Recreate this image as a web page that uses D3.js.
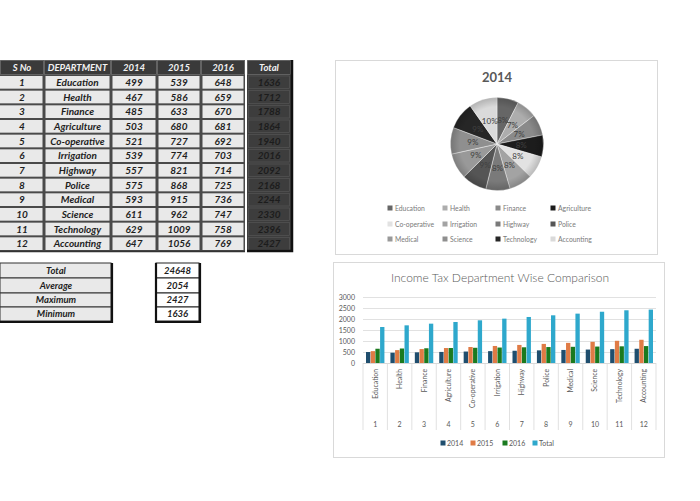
<!DOCTYPE html>
<html>
<head>
<meta charset="utf-8">
<script src="https://cdn.jsdelivr.net/npm/d3@7/dist/d3.min.js"></script>
<style>
  html, body { margin: 0; padding: 0; background: #ffffff; }
  svg { display: block; }
</style>
</head>
<body>
<svg id="chart" width="700" height="501"></svg>
<script>
// ---------- DATA ----------
const serialNumbers = [1, 2, 3, 4, 5, 6, 7, 8, 9, 10, 11, 12];
const departments = ["Education", "Health", "Finance", "Agriculture", "Co-operative", "Irrigation",
  "Highway", "Police", "Medical", "Science", "Technology", "Accounting"];
const values2014 = [499, 467, 485, 503, 521, 539, 557, 575, 593, 611, 629, 647];
const values2015 = [539, 586, 633, 680, 727, 774, 821, 868, 915, 962, 1009, 1056];
const values2016 = [648, 659, 670, 681, 692, 703, 714, 725, 736, 747, 758, 769];
const totals = [1636, 1712, 1788, 1864, 1940, 2016, 2092, 2168, 2244, 2330, 2396, 2427];
const tableHeaders = ["S No", "DEPARTMENT", "2014", "2015", "2016", "Total"];
const summaryLabels = ["Total", "Average", "Maximum", "Minimum"];
const summaryValues = [24648, 2054, 2427, 1636];
const seriesNames = ["2014", "2015", "2016", "Total"];
const yTicks = [0, 500, 1000, 1500, 2000, 2500, 3000];
const pieTitle = "2014";
const barTitle = "Income Tax Department Wise Comparison";

// ---------- STYLES ----------
const pieColors = ["#666666", "#adadad", "#8a8a8a", "#1c1c1c", "#e2e2e2", "#a3a3a3",
  "#7a7a7a", "#555555", "#999999", "#8f8f8f", "#262626", "#dadada"];
const seriesColors = ["#1f4e6e", "#e07b45", "#1b7a1f", "#2ea8cc"];
const tableFont = "Lato, 'Liberation Sans', sans-serif";
const chartFont = "Lato, 'Open Sans', 'Liberation Sans', sans-serif";

const svg = d3.select("#chart");

// ---------- MAIN TABLE ----------
const colEdges = [0, 44, 111, 157, 201, 245];
const totalCol = [247, 291];
const headerTop = 60, headerBottom = 75;
const rowY = d3.scaleLinear().domain([0, 12]).range([75, 251]);

const tbl = svg.append("g").attr("font-family", tableFont)
  .attr("font-style", "italic").attr("font-weight", "bold");

tbl.append("rect").attr("x", 0).attr("y", headerTop).attr("width", 245).attr("height", 251 - headerTop + 1)
  .attr("fill", "#4a4a4a");
const allCols = colEdges.slice(0, 5).map((x, i) => [x, colEdges[i + 1]]).concat([totalCol]);
tbl.append("rect").attr("x", 247).attr("y", headerTop).attr("width", 44).attr("height", 251 - headerTop + 1)
  .attr("fill", "#3d3d3d");
allCols.forEach((c, i) => {
  tbl.append("rect").attr("x", c[0] + 0.5).attr("y", headerTop + 0.5)
    .attr("width", c[1] - c[0] - 1).attr("height", headerBottom - headerTop - 1)
    .attr("fill", "#3a3a3a").attr("stroke", "#7a7a7a").attr("stroke-width", 0.6);
  tbl.append("text").attr("x", (c[0] + c[1]) / 2).attr("y", (headerTop + headerBottom) / 2 + 3.3)
    .attr("text-anchor", "middle").attr("font-size", 9.5).attr("fill", "#f2f2f2")
    .text(tableHeaders[i]);
});
const rowsData = departments.map((d, i) => [serialNumbers[i], d, values2014[i], values2015[i], values2016[i], totals[i]]);
rowsData.forEach((row, r) => {
  const y0 = rowY(r), y1 = rowY(r + 1);
  allCols.forEach((c, i) => {
    const isTotal = i === 5;
    tbl.append("rect").attr("x", c[0] + (i === 0 ? 0 : 1.5)).attr("y", y0 + 1)
      .attr("width", c[1] - c[0] - (i === 0 ? 1.5 : 3)).attr("height", y1 - y0 - 2)
      .attr("fill", isTotal ? "#3d3d3d" : "#e9e9e9")
      .attr("stroke", isTotal ? "#5a5a5a" : "none").attr("stroke-width", 0.6);
    tbl.append("text").attr("x", (c[0] + c[1]) / 2).attr("y", (y0 + y1) / 2 + 3.5)
      .attr("text-anchor", "middle").attr("font-size", 10)
      .attr("fill", isTotal ? "#1c1c1c" : "#1e1e1e")
      .text(row[i]);
  });
});
tbl.append("path").attr("d", `M247,251 L292,251 L292,60`).attr("fill", "none")
  .attr("stroke", "#111").attr("stroke-width", 2.5);
tbl.append("line").attr("x1", 0).attr("x2", 245).attr("y1", 251.5).attr("y2", 251.5)
  .attr("stroke", "#333").attr("stroke-width", 1.5);

// ---------- SUMMARY TABLE ----------
const sumRows = [263, 278, 293, 307, 321];
const sum = svg.append("g").attr("font-family", tableFont)
  .attr("font-style", "italic").attr("font-weight", "bold");
summaryLabels.forEach((lab, i) => {
  sum.append("rect").attr("x", 0).attr("y", sumRows[i]).attr("width", 111).attr("height", sumRows[i + 1] - sumRows[i])
    .attr("fill", "#e9e9e9").attr("stroke", "#333").attr("stroke-width", 1);
  sum.append("text").attr("x", 56).attr("y", (sumRows[i] + sumRows[i + 1]) / 2 + 3.3)
    .attr("text-anchor", "middle").attr("font-size", 9.5).attr("fill", "#1e1e1e").text(lab);
  sum.append("rect").attr("x", 156).attr("y", sumRows[i]).attr("width", 43).attr("height", sumRows[i + 1] - sumRows[i])
    .attr("fill", "#ffffff").attr("stroke", "#222").attr("stroke-width", 1);
  sum.append("text").attr("x", 177.5).attr("y", (sumRows[i] + sumRows[i + 1]) / 2 + 3.3)
    .attr("text-anchor", "middle").attr("font-size", 9.5).attr("fill", "#1e1e1e").text(summaryValues[i]);
});
sum.append("path").attr("d", "M0,322 L112,322 L112,263").attr("fill", "none").attr("stroke", "#111").attr("stroke-width", 2.2);
sum.append("path").attr("d", "M156,263 L156,322 L200,322 L200,263").attr("fill", "none").attr("stroke", "#111").attr("stroke-width", 2.2);

// ---------- PIE PANEL ----------
const pieG = svg.append("g").attr("font-family", chartFont);
pieG.append("rect").attr("x", 335.5).attr("y", 60.5).attr("width", 322).attr("height", 194)
  .attr("fill", "#fff").attr("stroke", "#d9d9d9");
pieG.append("text").attr("x", 497).attr("y", 82).attr("text-anchor", "middle")
  .attr("font-size", 13).attr("font-weight", "bold").attr("fill", "#595959").text(pieTitle);

const pieCx = 497, pieCy = 144, pieR = 46.5;
const pieData = d3.pie().sort(null).value(d => d)(values2014);
const arc = d3.arc().innerRadius(0).outerRadius(pieR);
const labelArc = d3.arc().innerRadius(pieR * 0.52).outerRadius(pieR * 0.52);
const sum2014 = d3.sum(values2014);
const pg = pieG.append("g").attr("transform", `translate(${pieCx},${pieCy})`);
const defs = svg.append("defs");
const shade = defs.append("radialGradient").attr("id", "pieShade").attr("cx", "50%").attr("cy", "50%").attr("r", "50%");
shade.append("stop").attr("offset", "80%").attr("stop-color", "#000").attr("stop-opacity", 0);
shade.append("stop").attr("offset", "100%").attr("stop-color", "#000").attr("stop-opacity", 0.18);
pg.selectAll("path.slice").data(pieData).enter().append("path").attr("class", "slice")
  .attr("d", arc).attr("fill", (d, i) => pieColors[i]).attr("stroke", "#ffffff").attr("stroke-width", 0.4);
pg.append("circle").attr("r", pieR).attr("fill", "url(#pieShade)");
pg.selectAll("text.pct").data(pieData).enter().append("text").attr("class", "pct")
  .attr("transform", d => `translate(${labelArc.centroid(d)})`)
  .attr("text-anchor", "middle").attr("dy", "0.35em")
  .attr("font-size", 8).attr("fill", "#404040")
  .text(d => Math.round(d.data / sum2014 * 100) + "%");

const legColX = [390, 445, 498, 553];
const legRowY = [208, 224, 239];
departments.forEach((dep, i) => {
  const cx = legColX[i % 4], cy = legRowY[Math.floor(i / 4)];
  pieG.append("rect").attr("x", cx - 2.5).attr("y", cy - 2.5).attr("width", 5).attr("height", 5).attr("fill", pieColors[i]);
  pieG.append("text").attr("x", cx + 5).attr("y", cy + 2.5).attr("font-size", 6.8).attr("fill", "#7a7a7a").text(dep);
});

// ---------- BAR PANEL ----------
const barG = svg.append("g").attr("font-family", chartFont);
barG.append("rect").attr("x", 333.5).attr("y", 262.5).attr("width", 331).attr("height", 195)
  .attr("fill", "#fff").attr("stroke", "#d9d9d9");
barG.append("text").attr("x", 500).attr("y", 282).attr("text-anchor", "middle")
  .attr("font-size", 12).attr("font-weight", 300).attr("fill", "#595959").text(barTitle);

const x0 = d3.scaleBand().domain(departments).range([363, 656]).paddingInner(0).paddingOuter(0);
const x1 = d3.scaleBand().domain(seriesNames).range([3, x0.bandwidth() - 3]).paddingInner(0.08);
const y = d3.scaleLinear().domain([0, 3000]).range([363, 297]);

const yAxis = d3.axisLeft(y).tickValues(yTicks).tickSize(-(656 - 363)).tickFormat(d3.format("d"));
const yg = barG.append("g").attr("transform", "translate(363,0)").call(yAxis);
yg.select(".domain").remove();
yg.selectAll(".tick line").attr("stroke", "#d9d9d9").attr("stroke-width", 0.8);
yg.selectAll(".tick text").attr("x", -8).attr("font-size", 7).attr("fill", "#595959").attr("font-family", chartFont);

const seriesValues = [values2014, values2015, values2016, totals];
departments.forEach((dep, i) => {
  seriesNames.forEach((s, k) => {
    barG.append("rect").attr("x", x0(dep) + x1(s)).attr("y", y(seriesValues[k][i]))
      .attr("width", x1.bandwidth()).attr("height", y(0) - y(seriesValues[k][i]))
      .attr("fill", seriesColors[k]);
  });
});

barG.append("line").attr("x1", 363).attr("x2", 656).attr("y1", 363.5).attr("y2", 363.5).attr("stroke", "#d9d9d9");
departments.concat([null]).forEach((dep) => {
  const xx = dep ? x0(dep) : 656;
  barG.append("line").attr("x1", xx).attr("x2", xx).attr("y1", 363).attr("y2", 430)
    .attr("stroke", "#d9d9d9").attr("stroke-width", 0.8);
});
departments.forEach((dep, i) => {
  const cx = x0(dep) + x0.bandwidth() / 2;
  barG.append("text").attr("transform", `translate(${cx + 2.5},369) rotate(-90)`)
    .attr("text-anchor", "end").attr("font-size", 6.8).attr("fill", "#595959").text(dep);
  barG.append("text").attr("x", cx).attr("y", 427).attr("text-anchor", "middle")
    .attr("font-size", 7).attr("fill", "#595959").text(serialNumbers[i]);
});

const barLegX = [443, 473, 505, 535];
seriesNames.forEach((s, k) => {
  barG.append("rect").attr("x", barLegX[k] - 2.5).attr("y", 440.5).attr("width", 5).attr("height", 5).attr("fill", seriesColors[k]);
  barG.append("text").attr("x", barLegX[k] + 4).attr("y", 445.5).attr("font-size", 7).attr("fill", "#595959").text(s);
});
</script>
</body>
</html>
